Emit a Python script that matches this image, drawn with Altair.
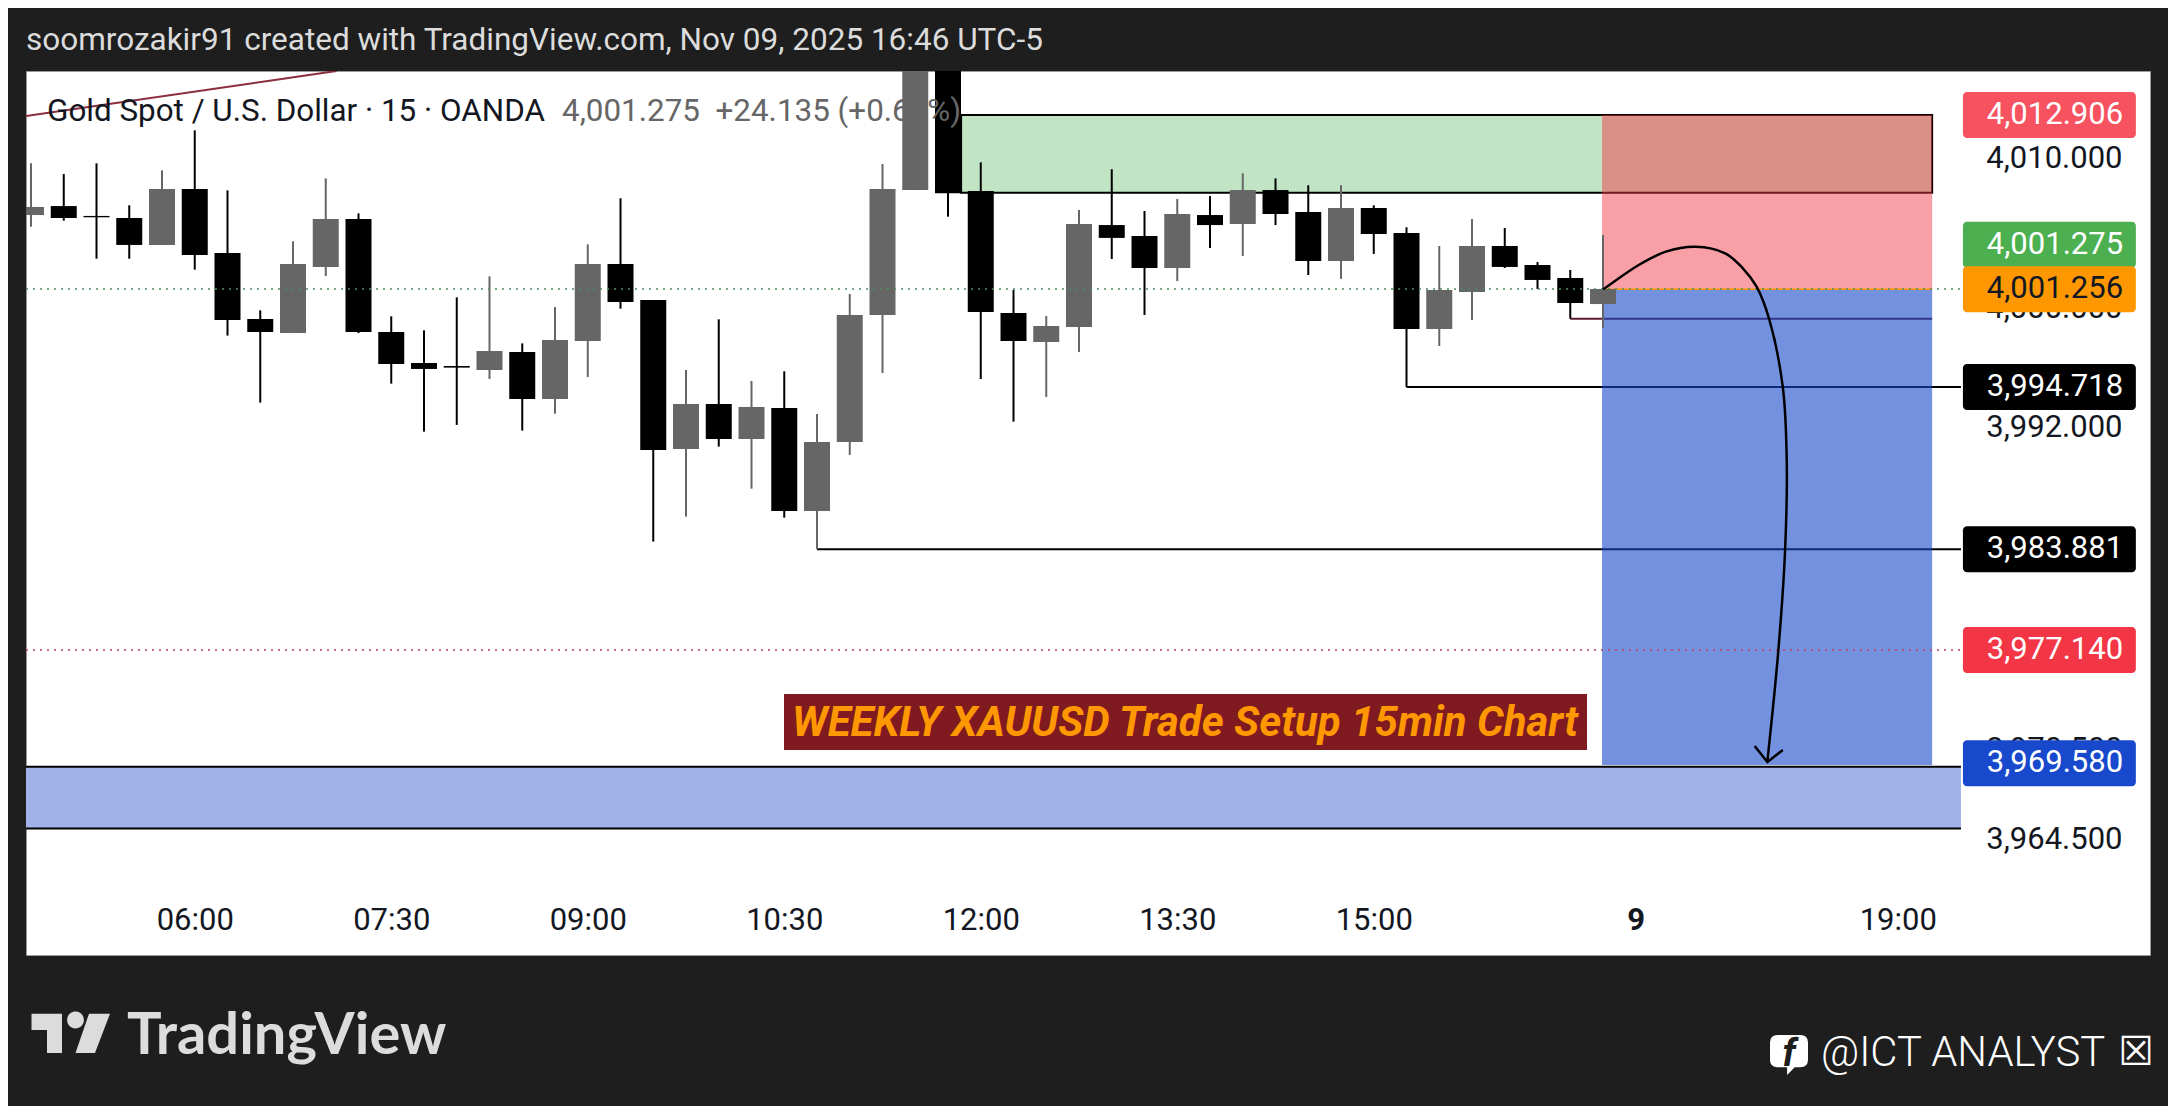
import altair as alt
import pandas as pd

# ---- candles (15 min bars, prices)
opens = [4006.22,4006.82,4006.16,4006.02,4004.22,4007.96,4003.68,3999.27,3998.33,4002.75,
         4005.96,3998.40,3996.33,3996.13,3995.86,3997.06,3993.92,3997.80,4002.95,4000.54,
         3990.58,3993.59,3991.25,3993.32,3986.44,3991.05,3999.54,4007.89,4017.00,4007.83,
         3999.67,3997.73,3998.74,4005.55,4004.82,4002.68,4006.22,4005.62,4007.89,4006.42,
         4003.15,4006.69,4005.02,3998.60,4001.08,4004.15,4002.88,4002.01,4000.27]
closes = [4006.76,4006.02,4006.07,4004.22,4007.96,4003.55,3999.20,3998.40,4002.95,4005.96,
          3998.40,3996.26,3995.93,3996.02,3997.13,3993.92,3997.87,4002.95,4000.41,3990.51,
          3993.59,3991.25,3993.39,3986.44,3991.05,3999.54,4007.96,4017.00,4007.67,3999.74,
          3997.80,3998.80,4005.62,4004.69,4002.68,4006.29,4005.55,4007.89,4006.29,4003.15,
          4006.69,4004.95,3998.60,4001.21,4004.15,4002.75,4001.88,4000.34,4001.275]
highs = [4009.68,4008.96,4009.68,4006.87,4009.21,4011.88,4007.87,3999.85,4004.46,4008.67,
         4006.33,3999.45,3998.51,4000.72,4002.12,3997.64,4000.07,4004.26,4007.34,4000.54,
         3995.86,3999.25,3995.13,3995.77,3992.92,4000.94,4009.63,4018.00,4017.80,4009.74,
         4001.21,3999.47,4006.56,4009.28,4006.49,4007.29,4007.49,4009.01,4008.67,4008.21,
         4008.21,4006.87,4005.40,4004.15,4005.96,4005.35,4003.08,4002.55,4004.89]
lows = [4005.44,4005.84,4003.30,4003.30,4004.22,4002.57,3998.16,3993.68,3998.33,4002.14,
        3998.33,3994.95,3991.74,3992.19,3995.26,3991.81,3992.94,3995.39,3999.96,3984.39,
        3986.06,3990.74,3987.93,3985.99,3983.881,3990.18,3995.66,4007.89,4006.11,3995.26,
        3992.41,3994.06,3997.06,4003.28,3999.54,4001.81,4004.02,4003.48,4005.55,4002.21,
        4001.95,4003.62,3994.718,3997.47,3999.20,4002.68,4001.28,3999.29,3998.69]
bar_index = list(range(len(opens)))

# ---- axes
time_ticks = [5, 11, 17, 23, 29, 35, 41, 49, 57]
time_labels = ["06:00", "07:30", "09:00", "10:30", "12:00", "13:30", "15:00", "9", "19:00"]
price_ticks = [4010.0, 4000.0, 3992.0, 3970.5, 3964.5]

# ---- price tags
tag_text = ["4,012.906", "4,001.275", "4,001.256", "3,994.718", "3,983.881", "3,977.140", "3,969.580"]
tag_anchor = [4012.906, 4004.24, 4001.256, 3994.718, 3983.881, 3977.14, 3969.58]
tag_fill = ["#f7525f", "#4caf50", "#ff9800", "#000000", "#000000", "#f23645", "#1848cc"]
tag_ink = ["#ffffff", "#ffffff", "#131722", "#ffffff", "#ffffff", "#ffffff", "#ffffff"]

# ---- drawings
level_start = [47.0, 42.0, 24.0]
level_end = [58.05, 58.93, 58.93]
level_price = [3999.29, 3994.718, 3983.881]
level_color = ["#5e1d2e", "#000000", "#000000"]

curve_i = [48.0,48.12,49.09,49.92,50.83,51.73,52.27,52.69,53.07,53.49,53.61,53.56,53.35,53.02]
curve_p = [4001.26,4001.43,4002.88,4003.77,4004.10,4003.66,4002.66,4001.43,3999.29,3994.72,3989.85,3983.83,3977.02,3969.73]
head_i = [52.63, 53.02, 53.49]
head_p = [3970.73, 3969.66, 3970.46]
trend_i = [-0.15, 9.33]
trend_p = [4012.84, 4015.85]

TITLE = "soomrozakir91 created with TradingView.com, Nov 09, 2025 16:46 UTC-5"
LEGEND = "Gold Spot / U.S. Dollar · 15 · OANDA"
LEGEND_VALUES = "4,001.275\u00a0\u00a0+24.135 (+0.61%)"
BANNER = "WEEKLY XAUUSD Trade Setup 15min Chart"
HANDLE = "@ICT ANALYST"

FONT = "Roboto"
VIEW_LEFT, VIEW_TOP = 26, 71

X = alt.Scale(domain=[-0.1527, 64.702], nice=False, zero=False, padding=0)
Y = alt.Scale(domain=[3956.756, 4015.848], nice=False, zero=False, padding=0)

label_map = "{" + ",".join(f"'{p}':'{l}'" for p, l in zip(time_ticks, time_labels)) + "}"
x_axis = alt.Axis(values=time_ticks, labelExpr=label_map + "[datum.value]", title=None, grid=False,
                  domain=False, ticks=False, offset=-35, labelPadding=0, labelBaseline="middle",
                  labelFont=FONT, labelFontSize=31, labelColor="#131722", labelOverlap=False,
                  labelFlush=False, labelBound=False,
                  labelFontWeight={"condition": {"test": "datum.value == 49", "value": "bold"}, "value": "normal"})
y_axis = alt.Axis(values=price_ticks, format=",.3f", orient="right", title=None, grid=False,
                  domain=False, ticks=False, offset=-28, labelPadding=0, labelAlign="right",
                  labelBaseline="middle", labelOffset=0, labelFont=FONT, labelFontSize=31,
                  labelColor="#131722", labelOverlap=False, labelBound=False)


def xq(field):
    return alt.X(field, scale=X, axis=x_axis)


def yq(field):
    return alt.Y(field, scale=Y, axis=y_axis)


def text(t, sx, sy, size, color, align="left", **kw):
    return alt.Chart(alt.Data(values=[{"t": t}])).mark_text(
        align=align, baseline="middle", fontSize=size, color=color, font=kw.pop("font", FONT), **kw
    ).encode(x=alt.value(sx - VIEW_LEFT), y=alt.value(sy - VIEW_TOP), text="t:N")


def hrule(start, end, price, color, width=2, **kw):
    return alt.Chart(alt.Data(values=[{"a": start, "b": end, "p": price}])).mark_rule(
        color=color, strokeWidth=width, **kw
    ).encode(x=xq("a:Q"), x2="b:Q", y=yq("p:Q"))


def zone(start, end, top, bottom, color, opacity=1.0, **kw):
    return alt.Chart(alt.Data(values=[{"a": start, "b": end, "t": top, "u": bottom}])).mark_rect(
        color=color, opacity=opacity, **kw
    ).encode(x=xq("a:Q"), x2="b:Q", y=yq("t:Q"), y2="u:Q")


def line(xs, ps, **kw):
    df = pd.DataFrame({"i": xs, "p": ps, "o": range(len(xs))})
    return alt.Chart(df).mark_line(**kw).encode(x=xq("i:Q"), y=yq("p:Q"), order="o:Q")


candles = pd.DataFrame({"i": bar_index, "open": opens, "close": closes, "high": highs, "low": lows})
color_rule = alt.condition("datum.close >= datum.open", alt.value("#666666"), alt.value("#000000"))
wicks = alt.Chart(candles).mark_rule(strokeWidth=2, clip=True).encode(
    x=xq("i:Q"), y=yq("low:Q"), y2="high:Q", color=color_rule)
bodies = alt.Chart(candles).mark_bar(size=26, clip=True, orient="vertical").encode(
    x=xq("i:Q"), y=yq("open:Q"), y2="close:Q", color=color_rule)

tags = pd.DataFrame({"text": tag_text, "anchor": tag_anchor, "fill": tag_fill, "ink": tag_ink})
tag_boxes = alt.Chart(tags).transform_calculate(
    top="datum.anchor + 1.537", bottom="datum.anchor - 1.537"
).mark_rect(cornerRadius=4).encode(
    x=alt.datum(58.99, scale=X, axis=x_axis), x2=alt.datum(64.27),
    y=yq("top:Q"), y2="bottom:Q",
    color=alt.Color("fill:N", scale=None))
tag_labels = alt.Chart(tags).mark_text(align="right", baseline="middle", fontSize=31, font=FONT).encode(
    x=alt.datum(63.88, scale=X, axis=x_axis), y=yq("anchor:Q"),
    text="text:N", color=alt.Color("ink:N", scale=None))

levels = pd.DataFrame({"a": level_start, "b": level_end, "p": level_price, "c": level_color})
level_rules = alt.Chart(levels).mark_rule(strokeWidth=2).encode(
    x=xq("a:Q"), x2="b:Q", y=yq("p:Q"), color=alt.Color("c:N", scale=None))

banner = alt.Chart(alt.Data(values=[{"k": 1}])).mark_rect(color="#7f1a20").encode(
    x=alt.value(784 - VIEW_LEFT), x2=alt.value(1587 - VIEW_LEFT),
    y=alt.value(694 - VIEW_TOP), y2=alt.value(750 - VIEW_TOP))

LOGO = ("M-0.975,-0.4925 L-0.2125,-0.4925 L-0.2125,0.49 L-0.5875,0.49 L-0.5875,-0.085 L-0.975,-0.085 Z "
        "M0.335,-0.335 A0.21,0.21 0 1,1 -0.085,-0.335 A0.21,0.21 0 1,1 0.335,-0.335 Z "
        "M0.4625,-0.4925 L0.9875,-0.4925 L0.6125,0.49 L0.125,0.49 Z")
logo = alt.Chart(alt.Data(values=[{"k": 1}])).mark_point(
    shape=LOGO, size=6400, filled=True, color="#dcdcdc", opacity=1, strokeWidth=0
).encode(x=alt.value(70.5 - VIEW_LEFT), y=alt.value(1033.4 - VIEW_TOP))
FB = ("M-0.6,-1 L0.6,-1 Q1,-1 1,-0.6 L1,0.3 Q1,0.7 0.6,0.7 L0.3,0.7 L-0.1,1.1 L-0.1,0.7 L-0.6,0.7 "
      "Q-1,0.7 -1,0.3 L-1,-0.6 Q-1,-1 -0.6,-1 Z")
fb = alt.Chart(alt.Data(values=[{"k": 1}])).mark_point(
    shape=FB, size=1444, filled=True, color="#ffffff", opacity=1, strokeWidth=0
).encode(x=alt.value(1789 - VIEW_LEFT), y=alt.value(1054 - VIEW_TOP))

chart = alt.layer(
    line(trend_i, trend_p, color="#8b2f3f", strokeWidth=2, clip=True),
    zone(28.40, 58.05, 4012.906, 4007.713, "#c1e5c4", stroke="#000000", strokeWidth=2),
    zone(-0.1527, 58.93, 3969.345, 3965.214, "#a0b2e8"),
    hrule(-0.1527, 58.93, 3969.345, "#000000"),
    hrule(-0.1527, 58.93, 3965.214, "#000000"),
    level_rules,
    zone(47.97, 58.05, 4012.906, 4001.256, "#f23645", 0.48),
    zone(47.97, 58.05, 4001.256, 3969.45, "#1848cc", 0.60),
    hrule(47.97, 58.05, 4001.256, "#ff9800", 1.5),
    wicks, bodies,
    hrule(-0.1527, 58.93, 4001.275, "#4c8c5c", 1.5, strokeDash=[2, 5]),
    hrule(-0.1527, 58.93, 3977.14, "#c0405a", 1.5, strokeDash=[2, 5]),
    line(curve_i, curve_p, color="#000000", strokeWidth=2.5, interpolate="catmull-rom"),
    line(head_i, head_p, color="#000000", strokeWidth=2.5),
    text(LEGEND, 47, 112, 31.4, "#131722"),
    text(LEGEND_VALUES, 562, 112, 31.4, "#666666"),
    banner,
    text(BANNER, 1185, 723, 42, "#ff9800", align="center", fontWeight="bold", fontStyle="italic"),
    tag_boxes, tag_labels,
    text(TITLE, 26, 41, 31.5, "#dcdcdc"),
    logo,
    text("TradingView", 127, 1037, 57.8, "#dcdcdc", font="Lato", fontWeight="bold"),
    fb,
    text("f", 1789, 1055, 38, "#1e1e1e", align="center", fontWeight="bold", fontStyle="italic"),
    text(HANDLE, 1821, 1053, 41.8, "#ffffff", fontWeight=300),
    text("☒", 2136, 1053, 40, "#ffffff", align="center", font="DejaVu Sans"),
).resolve_scale(
    x="shared", y="shared"
).properties(
    width=2124, height=884,
    padding={"left": 18, "top": 63, "right": 18, "bottom": 151},
    autosize=alt.AutoSizeParams(type="none"),
    background="#1e1e1e",
).configure_view(fill="#ffffff", stroke="#9a9a9a", strokeWidth=1)

chart.save("out.html", embed_options={"renderer": "svg", "actions": False})
